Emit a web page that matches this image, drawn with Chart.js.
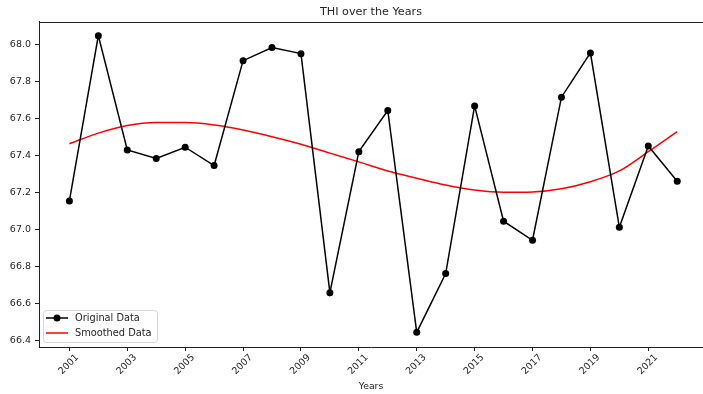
<!DOCTYPE html>
<html>
<head>
<meta charset="utf-8">
<script src="https://cdn.jsdelivr.net/npm/chart.js@4.4.1/dist/chart.umd.min.js"></script>
<style>
  html, body { margin: 0; padding: 0; background: #fff; }
  #wrap { width: 703px; height: 394px; }
</style>
</head>
<body>
<div id="wrap"><canvas id="chart" width="703" height="394"></canvas></div>
<script>
// Yearly THI readings and their smoothed trend
const years = [2001, 2002, 2003, 2004, 2005, 2006, 2007, 2008, 2009, 2010, 2011,
               2012, 2013, 2014, 2015, 2016, 2017, 2018, 2019, 2020, 2021, 2022];
const thiValues = [67.154, 68.046, 67.429, 67.383, 67.444, 67.345, 67.911, 67.982, 67.949, 66.659, 67.420,
                   67.642, 66.445, 66.762, 67.667, 67.045, 66.942, 67.714, 67.953, 67.012, 67.451, 67.260];
const smoothedValues = [67.463, 67.520, 67.561, 67.577, 67.577, 67.564, 67.537, 67.501, 67.460, 67.412, 67.365,
                        67.316, 67.277, 67.240, 67.213, 67.201, 67.203, 67.220, 67.258, 67.316, 67.420, 67.528];
const yearTicks = [2001, 2003, 2005, 2007, 2009, 2011, 2013, 2015, 2017, 2019, 2021];
const thiTicks = [66.4, 66.6, 66.8, 67.0, 67.2, 67.4, 67.6, 67.8, 68.0];

const FONT = 'DejaVu Sans';
const TEXT = '#262626';

const toPoints = vals => years.map((y, i) => ({ x: y, y: vals[i] }));

// Top spine plus a matplotlib-style legend in the lower-left corner
const framePlugin = {
  id: 'frame',
  afterDraw(chart) {
    const { ctx, chartArea: a } = chart;
    ctx.save();
    ctx.strokeStyle = '#222';
    ctx.lineWidth = 1;
    ctx.beginPath();
    ctx.moveTo(a.left, Math.round(a.top) + 0.5);
    ctx.lineTo(a.right, Math.round(a.top) + 0.5);
    ctx.stroke();

    const lx = a.left + 4, ly = a.bottom - 37, lw = 114, lh = 32;
    ctx.fillStyle = 'rgba(255,255,255,0.85)';
    ctx.strokeStyle = '#d6d6d6';
    ctx.beginPath();
    ctx.roundRect(lx + 0.5, ly + 0.5, lw, lh, 3);
    ctx.fill();
    ctx.stroke();

    ctx.font = '9.8px "' + FONT + '"';
    ctx.textBaseline = 'middle';
    ctx.textAlign = 'left';
    chart.data.datasets.forEach((ds, i) => {
      const cy = ly + 8 + i * 15;
      ctx.strokeStyle = ds.borderColor;
      ctx.lineWidth = 1.5;
      ctx.beginPath();
      ctx.moveTo(lx + 3, cy);
      ctx.lineTo(lx + 25, cy);
      ctx.stroke();
      if (ds.pointRadius > 0) {
        ctx.fillStyle = ds.pointBackgroundColor;
        ctx.beginPath();
        ctx.arc(lx + 14, cy, 3.5, 0, Math.PI * 2);
        ctx.fill();
      }
      ctx.fillStyle = TEXT;
      ctx.fillText(ds.label, lx + 32, cy + 0.5);
    });
    ctx.restore();
  }
};

new Chart(document.getElementById('chart'), {
  type: 'line',
  data: {
    datasets: [
      {
        label: 'Original Data',
        data: toPoints(thiValues),
        borderColor: '#000',
        borderWidth: 1.5,
        pointRadius: 3.5,
        pointBackgroundColor: '#000',
        pointBorderWidth: 0,
        tension: 0
      },
      {
        label: 'Smoothed Data',
        data: toPoints(smoothedValues),
        borderColor: '#ff0000',
        borderWidth: 1.5,
        pointRadius: 0,
        cubicInterpolationMode: 'monotone'
      }
    ]
  },
  options: {
    responsive: false,
    animation: false,
    layout: { autoPadding: false, padding: 0 },
    plugins: {
      legend: { display: false },
      tooltip: { enabled: false },
      title: {
        display: true,
        fullSize: false,
        text: 'THI over the Years',
        color: TEXT,
        font: { family: FONT, size: 11.2, weight: 'normal' },
        padding: { top: 5, bottom: 3.5 }
      }
    },
    scales: {
      x: {
        type: 'linear',
        min: 1999.95,
        max: 2022.89,
        afterBuildTicks: s => { s.ticks = yearTicks.map(v => ({ value: v })); },
        afterFit: s => { s.height = 47; s.paddingLeft = 0; s.paddingRight = 0; },
        grid: { display: true, drawOnChartArea: false, drawTicks: true, tickLength: 4, color: '#222' },
        border: { display: true, color: '#222', width: 1 },
        ticks: {
          autoSkip: false,
          maxRotation: 45,
          minRotation: 45,
          labelOffset: 8,
          padding: 1,
          color: TEXT,
          font: { family: FONT, size: 9.5 },
          callback: v => String(v)
        },
        title: {
          display: true,
          text: 'Years',
          color: TEXT,
          font: { family: FONT, size: 9.3 },
          padding: { top: 0, bottom: 1.5 }
        }
      },
      y: {
        min: 66.366,
        max: 68.12,
        afterBuildTicks: s => { s.ticks = thiTicks.map(v => ({ value: v })); },
        afterFit: s => { s.width = 39; },
        grid: { display: true, drawOnChartArea: false, drawTicks: true, tickLength: 4, color: '#222' },
        border: { display: true, color: '#222', width: 1 },
        ticks: {
          padding: 4,
          color: TEXT,
          font: { family: FONT, size: 9.5 },
          callback: v => v.toFixed(1)
        }
      }
    }
  },
  plugins: [framePlugin]
});
</script>
</body>
</html>
